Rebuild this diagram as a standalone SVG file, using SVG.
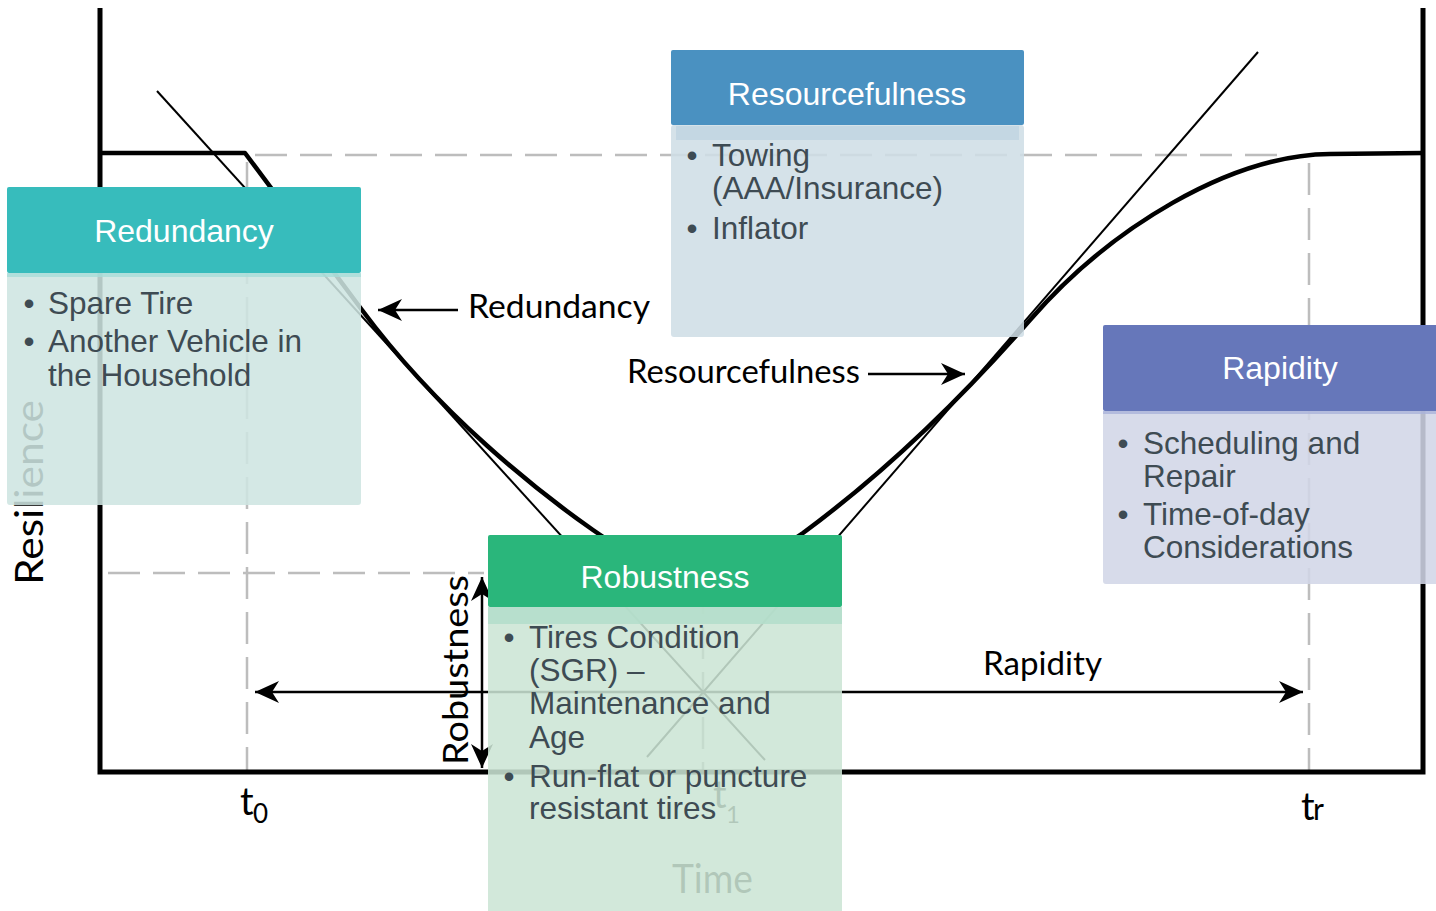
<svg xmlns="http://www.w3.org/2000/svg" width="1436" height="911" viewBox="0 0 1436 911">
  <defs>
    <style>
      .axis { fill: none; stroke: #000; stroke-width: 5; stroke-linejoin: miter; }
      .curve { fill: none; stroke: #000; stroke-width: 4.5; stroke-linejoin: round; }
      .tangent { fill: none; stroke: #000; stroke-width: 2; }
      .guide { fill: none; stroke: #bdbdbd; stroke-width: 2.5; stroke-dasharray: 32 13; }
      .arrow { fill: none; stroke: #000; stroke-width: 2.5; }
      .lbl { font-family: Lato, "Liberation Sans", sans-serif; fill: #000; }
      .head { font-family: "Liberation Sans", Arial, sans-serif; font-size: 32px; fill: #fff; text-anchor: middle; }
      .item { font-family: "Liberation Sans", Arial, sans-serif; font-size: 31.5px; fill: #3e4b53; }
      .dot { text-anchor: middle; }
      .body { fill-opacity: 0.87; }
    </style>
    <marker id="ah" viewBox="-25 -12 26 24" refX="0" refY="0" markerWidth="26" markerHeight="24" markerUnits="userSpaceOnUse" orient="auto-start-reverse">
      <path d="M0,0 L-24,-11 L-17,0 L-24,11 Z" fill="#000"/>
    </marker>
  </defs>

  <rect width="1436" height="911" fill="#fff"/>

  <!-- resilience chart -->
  <g id="chart">
    <!-- dashed reference levels and times -->
    <path class="guide" d="M255,155 H1280"/>
    <path class="guide" d="M247,162 V770"/>
    <path class="guide" d="M1309,163 V770"/>
    <path class="guide" d="M108,573 H484"/>
    <path class="guide" d="M703,582 V770" style="stroke:#999"/>
    <!-- tangent lines -->
    <path class="tangent" d="M157,91 L765,760"/>
    <path class="tangent" d="M1258,52 L647,757"/>
    <!-- axes -->
    <path class="axis" d="M100,8 V772 H1423 V8"/>
    <!-- performance curve -->
    <path class="curve" d="M100,153 H245 L362,310 C440,415 540,493 593,530 C640,563 670,573 700,573 C735,573 770,556 803,533 C883,474 960,400 1030,320 C1110,228 1230,155 1330,154 L1423,153"/>
    <!-- axis and time labels -->
    <text class="lbl" font-size="39" textLength="185" lengthAdjust="spacingAndGlyphs" transform="translate(43,585) rotate(-90)">Resilience</text>
    <text class="lbl" font-size="38" x="240" y="815">t</text>
    <text class="lbl" font-size="26" x="253" y="823">0</text>
    <text class="lbl" font-size="38" x="713" y="808">t</text>
    <text class="lbl" font-size="24" x="726" y="823">1</text>
    <text class="lbl" font-size="38" x="1301" y="820">t</text>
    <text class="lbl" font-size="30" x="1313" y="820">r</text>
    <text class="lbl" font-size="40" x="672" y="893" textLength="81" lengthAdjust="spacingAndGlyphs">Time</text>
    <!-- phase labels -->
    <text class="lbl" font-size="32" x="468" y="318" textLength="182" lengthAdjust="spacingAndGlyphs">Redundancy</text>
    <text class="lbl" font-size="32" x="627" y="383" textLength="233" lengthAdjust="spacingAndGlyphs">Resourcefulness</text>
    <text class="lbl" font-size="32" x="983" y="675" textLength="119" lengthAdjust="spacingAndGlyphs">Rapidity</text>
    <text class="lbl" font-size="35" textLength="190" lengthAdjust="spacingAndGlyphs" transform="translate(468,765) rotate(-90)">Robustness</text>
  </g>

  <!-- label arrows -->
  <g id="connectors">
    <path class="arrow" d="M458,310 H378" marker-end="url(#ah)"/>
    <path class="arrow" d="M868,374 H965" marker-end="url(#ah)"/>
    <path class="arrow" d="M255,692 H1303" marker-start="url(#ah)" marker-end="url(#ah)"/>
    <path class="arrow" d="M482,577 V768" marker-start="url(#ah)" marker-end="url(#ah)"/>
  </g>

  <!-- Redundancy card -->
  <g id="redundancy">
    <rect class="body" x="7" y="273" width="354" height="232" rx="3" fill="#cee5e1"/>
    <rect x="7" y="273" width="354" height="4" fill="#a6dcd8" fill-opacity="0.8"/>
    <rect x="7" y="187" width="354" height="86" rx="2" fill="#37bcbc"/>
    <text class="head" x="184" y="242">Redundancy</text>
    <text class="item"><tspan class="dot" x="29" y="314">•</tspan><tspan x="48" y="314">Spare Tire</tspan></text>
    <text class="item"><tspan class="dot" x="29" y="352">•</tspan><tspan x="48" y="352">Another Vehicle in</tspan><tspan x="48" y="386">the Household</tspan></text>
  </g>

  <!-- Resourcefulness card -->
  <g id="resourcefulness">
    <rect class="body" x="671" y="125" width="353" height="212" rx="3" fill="#cfdee6"/>
    <rect x="676" y="126" width="343" height="14" fill="#c2d6e2" fill-opacity="0.9"/>
    <rect x="671" y="50" width="353" height="75" rx="2" fill="#4a91c1"/>
    <text class="head" x="847" y="105">Resourcefulness</text>
    <text class="item"><tspan class="dot" x="692" y="166">•</tspan><tspan x="712" y="166">Towing</tspan><tspan x="712" y="199">(AAA/Insurance)</tspan></text>
    <text class="item"><tspan class="dot" x="692" y="239">•</tspan><tspan x="712" y="239">Inflator</tspan></text>
  </g>

  <!-- Rapidity card -->
  <g id="rapidity">
    <rect class="body" x="1103" y="411" width="354" height="173" rx="3" fill="#d1d6e7"/>
    <rect x="1103" y="411" width="354" height="3" fill="#aab3da" fill-opacity="0.8"/>
    <rect x="1103" y="325" width="354" height="86" rx="2" fill="#6677ba"/>
    <text class="head" x="1280" y="379">Rapidity</text>
    <text class="item"><tspan class="dot" x="1123" y="454">•</tspan><tspan x="1143" y="454">Scheduling and</tspan><tspan x="1143" y="487">Repair</tspan></text>
    <text class="item"><tspan class="dot" x="1123" y="525">•</tspan><tspan x="1143" y="525">Time-of-day</tspan><tspan x="1143" y="558">Considerations</tspan></text>
  </g>

  <!-- Robustness card -->
  <g id="robustness">
    <rect class="body" x="488" y="607" width="354" height="310" rx="3" fill="#cbe5d5"/>
    <rect x="488" y="607" width="354" height="17" fill="#b4decb" fill-opacity="0.9"/>
    <rect x="488" y="535" width="354" height="72" rx="2" fill="#2ab67b"/>
    <text class="head" x="665" y="588">Robustness</text>
    <text class="item"><tspan class="dot" x="509" y="648">•</tspan><tspan x="529" y="648">Tires Condition</tspan><tspan x="529" y="681">(SGR) –</tspan><tspan x="529" y="714">Maintenance and</tspan><tspan x="529" y="748">Age</tspan></text>
    <text class="item"><tspan class="dot" x="509" y="787">•</tspan><tspan x="529" y="787">Run-flat or puncture</tspan><tspan x="529" y="819">resistant tires</tspan></text>
  </g>
</svg>
